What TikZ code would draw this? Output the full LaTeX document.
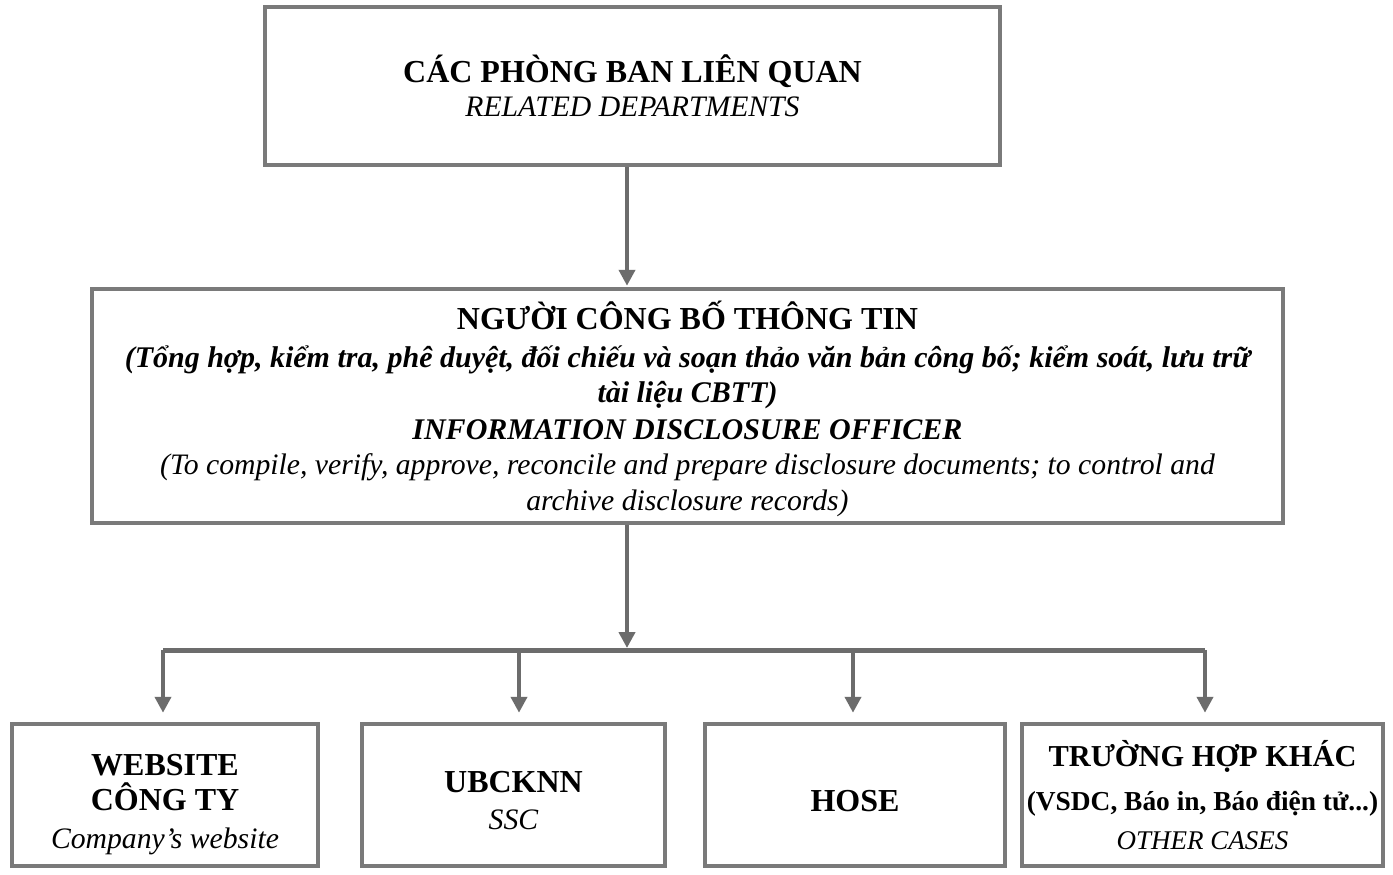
\documentclass[tikz,border=0pt]{standalone}
\usepackage{fontspec}
\setmainfont{Liberation Serif}
\usetikzlibrary{arrows.meta,calc}
\definecolor{boxgray}{HTML}{7A7A7A}
\definecolor{linegray}{HTML}{6C6C6C}
\newcommand{\szb}{\fontsize{32}{35}\selectfont\bfseries}
\newcommand{\szi}{\fontsize{29.7}{35}\selectfont\itshape}
\begin{document}
\begin{tikzpicture}[x=1pt,y=-1pt,
  box/.style={draw=boxgray,line width=4.5pt,fill=white,inner sep=0pt},
  txt/.style={inner sep=0pt,align=center},
  arr/.style={draw=linegray,line width=4pt,-{Triangle[width=16pt,length=16pt]}},
  bus/.style={draw=linegray,line width=5pt},
]
\useasboundingbox[fill=white] (0,0) rectangle (1393,875);

\node[box,minimum width=735pt,minimum height=158pt] (top) at (632.5,86) {};
\node[txt,font=\fontsize{30}{34}\selectfont] (ttop) at (top.center)
  {\szb CÁC PHÒNG BAN LIÊN QUAN\\
   \szi RELATED DEPARTMENTS};

\node[box,minimum width=1191pt,minimum height=234pt] (mid) at (687.5,406) {};
\node[txt,font=\fontsize{30}{35.6}\selectfont] (tmid) at ([yshift=-3pt]mid.center)
  {\szb NGƯỜI CÔNG BỐ THÔNG TIN\\[2pt]
   \bfseries\itshape (Tổng hợp, kiểm tra, phê duyệt, đối chiếu và soạn thảo văn bản công bố; kiểm soát, lưu trữ\\
   \bfseries\itshape tài liệu CBTT)\\[1pt]
   \bfseries\itshape INFORMATION DISCLOSURE OFFICER\\
   \szi (To compile, verify, approve, reconcile and prepare disclosure documents; to control and\\
   \szi archive disclosure records)};

\node[box,minimum width=306pt,minimum height=142pt] (b1) at (165,795) {};
\node[txt,font=\fontsize{30}{35}\selectfont] (tb1) at ([yshift=-10pt]b1.center)
  {\szb WEBSITE\\
   \szb CÔNG TY\\[3pt]
   \szi Company’s website};
\node[box,minimum width=303pt,minimum height=142pt] (b2) at (513.5,795) {};
\node[txt,font=\fontsize{30}{37}\selectfont] (tb2) at ([yshift=-6pt]b2.center)
  {\szb UBCKNN\\
   \szi SSC};
\node[box,minimum width=300pt,minimum height=142pt] (b3) at (855,795) {};
\node[txt,font=\fontsize{30}{35}\selectfont] (tb3) at ([yshift=-6pt]b3.center)
  {\szb HOSE};
\node[box,minimum width=361pt,minimum height=142pt] (b4) at (1202.5,795) {};
\node[txt,font=\fontsize{30}{39}\selectfont] (tb4) at (b4.center)
  {{\fontsize{30.4}{39}\selectfont\bfseries TRƯỜNG HỢP KHÁC}\\[5pt]
   {\fontsize{27.4}{39}\selectfont\bfseries (VSDC, Báo in, Báo điện tử...)}\\
   {\fontsize{27}{39}\selectfont\itshape OTHER CASES}};

\coordinate (hub) at (627,650);
\draw[arr,shorten >=1pt] (top.south -| hub) -- (mid.north -| hub);
\draw[arr,shorten >=2pt] (mid.south -| hub) -- (hub);
\draw[bus] ([xshift=-2pt]b1.north |- hub) -- ([xshift=2.5pt]b4.north |- hub);
\draw[arr,shorten >=9pt] ([xshift=-2pt]b1.north |- hub) -- ([xshift=-2pt]b1.north);
\draw[arr,shorten >=9pt] ([xshift=5.5pt]b2.north |- hub) -- ([xshift=5.5pt]b2.north);
\draw[arr,shorten >=9pt] ([xshift=-2pt]b3.north |- hub) -- ([xshift=-2pt]b3.north);
\draw[arr,shorten >=9pt] ([xshift=2.5pt]b4.north |- hub) -- ([xshift=2.5pt]b4.north);
\end{tikzpicture}
\end{document}
